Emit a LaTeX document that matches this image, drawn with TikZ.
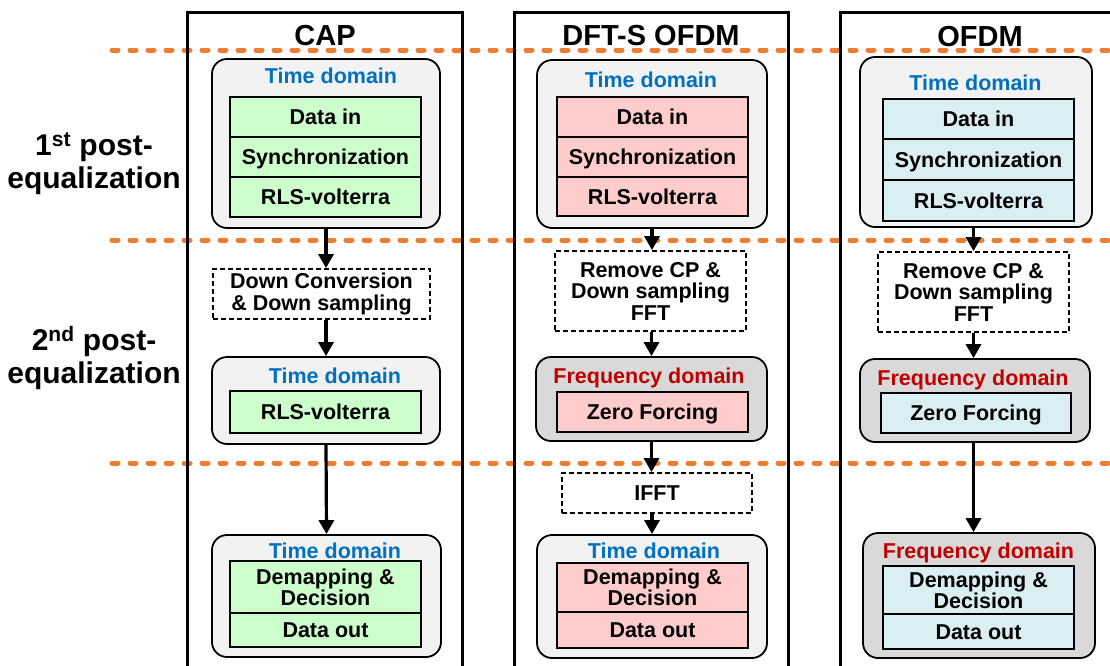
\documentclass[tikz,border=0pt]{standalone}
\usepackage{fontspec}
\setmainfont{Liberation Sans}
\usetikzlibrary{arrows.meta}
\definecolor{sepc}{HTML}{ED7D31}
\definecolor{lgray}{HTML}{F2F2F2}
\definecolor{dgray}{HTML}{D9D9D9}
\definecolor{gfill}{HTML}{CCFFCC}
\definecolor{pfill}{HTML}{FFCCCC}
\definecolor{bfill}{HTML}{DAEEF3}
\definecolor{tblue}{HTML}{0070C0}
\definecolor{tred}{HTML}{C00000}
\begin{document}
\begin{tikzpicture}[x=1pt,y=-1pt,
  colbox/.style={line width=3pt},
  cont/.style={draw, line width=1.8pt, rounded corners=15pt, inner sep=0pt},
  tcont/.style={cont, fill=lgray},
  fcont/.style={cont, fill=dgray},
  cell/.style={draw, line width=1.6pt, inner sep=0pt, minimum width=191pt, font=\fontsize{21.5}{20}\selectfont\bfseries, align=center},
  sl/.style={text height=15pt, text depth=0pt},
  dbox/.style={draw, dash pattern=on 5pt off 3pt, line width=1.8pt, inner sep=0pt, font=\fontsize{21.5}{21.5}\selectfont\bfseries, align=center},
  lab/.style={font=\fontsize{21.5}{21}\selectfont\bfseries, inner sep=0pt, text height=15pt, text depth=0pt},
  ttl/.style={font=\fontsize{29}{29}\selectfont\bfseries, inner sep=0pt, text height=20pt, text depth=0pt},
  side/.style={font=\fontsize{30}{33}\selectfont\bfseries, align=center, inner sep=0pt},
  sep/.style={sepc, line width=5pt, dash pattern=on 6pt off 12pt, line cap=round},
  arr/.style={line width=3.2pt, -{Triangle[length=14pt,width=15pt]}},
]
\useasboundingbox (0,0) rectangle (1110,665);
\clip (0,0) rectangle (1110,665);

% separators
\draw[sep] (112,50) -- (1115,50);
\draw[sep] (112,240) -- (1115,240);
\draw[sep] (112,463) -- (1115,463);

% column frames
\draw[colbox] (187,700) -- (187,12) -- (462,12) -- (462,700);
\draw[colbox] (514,700) -- (514,12) -- (788,12) -- (788,700);
\draw[colbox] (840,700) -- (840,12) -- (1130,12);

% side labels
\node[side] (s1) at (94,164) {1\textsuperscript{st} post-\\equalization};
\node[side] (s2) at (94,358) {2\textsuperscript{nd} post-\\equalization};

% ================= CAP =================
\node[ttl] (tcap) at (325,35) {CAP};
\node[tcont, minimum width=228pt, minimum height=169pt] (cap1) at (326,143.5) {};
\node[lab, text=tblue] (cap1l) at (331,76) {Time domain};
\node[cell, sl, fill=gfill, minimum height=40pt] (cap1a) at (325.5,117) {Data in};
\node[cell, sl, fill=gfill, minimum height=40pt] (cap1b) at (325.5,157) {Synchronization};
\node[cell, sl, fill=gfill, minimum height=40pt] (cap1c) at (325.5,197) {RLS-volterra};

\node[dbox, minimum width=217pt, minimum height=50pt] (capd) at (321.5,294) {Down Conversion\\\& Down sampling};

\node[tcont, minimum width=228pt, minimum height=87pt] (cap2) at (326,400.5) {};
\node[lab, text=tblue] (cap2l) at (335,376) {Time domain};
\node[cell, sl, fill=gfill, minimum height=42pt] (cap2a) at (325.5,412) {RLS-volterra};

\node[tcont, minimum width=229pt, minimum height=122pt] (cap3) at (326.5,596) {};
\node[lab, text=tblue] (cap3l) at (335,550.5) {Time domain};
\node[cell, fill=gfill, minimum height=52pt] (cap3a) at (325.5,587) {Demapping \&\\Decision};
\node[cell, sl, fill=gfill, minimum height=34pt] (cap3b) at (325.5,630) {Data out};

\draw[arr] (cap1.south) -- (cap1.south |- capd.north);
\draw[arr] (capd.south -| cap2.north) -- (cap2.north);
\draw[arr] (cap2.south) -- (cap3.north);

% ================= DFT-S OFDM =================
\node[ttl] (tdft) at (651,35) {DFT-S OFDM};
\node[tcont, minimum width=230pt, minimum height=168pt] (dft1) at (652,144) {};
\node[lab, text=tblue] (dft1l) at (651,80) {Time domain};
\node[cell, sl, fill=pfill, minimum height=40pt] (dft1a) at (652.5,117) {Data in};
\node[cell, sl, fill=pfill, minimum height=40pt] (dft1b) at (652.5,157) {Synchronization};
\node[cell, sl, fill=pfill, minimum height=39pt] (dft1c) at (652.5,196.5) {RLS-volterra};

\node[dbox, minimum width=191pt, minimum height=80pt] (dftd) at (650.5,291) {Remove CP \&\\Down sampling\\FFT};

\node[fcont, minimum width=231pt, minimum height=84pt] (dft2) at (651.5,399) {};
\node[lab, text=tred] (dft2l) at (649,376) {Frequency domain};
\node[cell, sl, fill=pfill, minimum height=40pt] (dft2a) at (652.5,412) {Zero Forcing};

\node[dbox, minimum width=190pt, minimum height=40pt, text height=15pt, text depth=0pt] (dfti) at (657,493) {IFFT};

\node[tcont, minimum width=230pt, minimum height=123pt] (dft3) at (652,596.5) {};
\node[lab, text=tblue] (dft3l) at (654,550.5) {Time domain};
\node[cell, fill=pfill, minimum height=49pt] (dft3a) at (652.5,587.5) {Demapping \&\\Decision};
\node[cell, sl, fill=pfill, minimum height=36pt] (dft3b) at (652.5,630) {Data out};

\draw[arr] (dft1.south) -- (dft1.south |- dftd.north);
\draw[arr] (dftd.south -| dft2.north) -- (dft2.north);
\draw[arr] (dft2.south) -- (dft2.south |- dfti.north);
\draw[arr] (dfti.south -| dft3.north) -- (dft3.north);

% ================= OFDM =================
\node[ttl] (tofdm) at (980,36) {OFDM};
\node[tcont, minimum width=232pt, minimum height=170pt] (of1) at (976,142) {};
\node[lab, text=tblue] (of1l) at (975.5,83) {Time domain};
\node[cell, sl, fill=bfill, minimum height=40pt] (of1a) at (978.5,119) {Data in};
\node[cell, sl, fill=bfill, minimum height=41pt] (of1b) at (978.5,159.5) {Synchronization};
\node[cell, sl, fill=bfill, minimum height=41pt] (of1c) at (978.5,200.5) {RLS-volterra};

\node[dbox, minimum width=191pt, minimum height=80pt] (ofd) at (973.5,292) {Remove CP \&\\Down sampling\\FFT};

\node[fcont, minimum width=230pt, minimum height=83pt] (of2) at (975,400.5) {};
\node[lab, text=tred] (of2l) at (973,377.5) {Frequency domain};
\node[cell, sl, fill=bfill, minimum width=190pt, minimum height=40pt] (of2a) at (976,413) {Zero Forcing};

\node[fcont, minimum width=232pt, minimum height=125pt] (of3) at (979,595.5) {};
\node[lab, text=tred] (of3l) at (978.5,550.5) {Frequency domain};
\node[cell, fill=bfill, minimum height=48pt] (of3a) at (978.5,590) {Demapping \&\\Decision};
\node[cell, sl, fill=bfill, minimum height=35pt] (of3b) at (978.5,631.5) {Data out};

\draw[arr] (of1.south -| ofd.north) -- (ofd.north);
\draw[arr] (ofd.south) -- (ofd.south |- of2.north);
\draw[arr] (of2.south -| ofd.south) -- (ofd.south |- of3.north);
\end{tikzpicture}
\end{document}
